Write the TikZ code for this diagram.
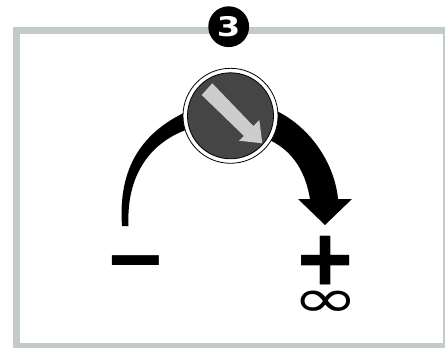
\documentclass[tikz,border=0pt]{standalone}
\usepackage{fontspec}
\setmainfont{DejaVu Sans}
\newfontfamily\signfont{Liberation Sans}
\usetikzlibrary{positioning}
\definecolor{framegray}{HTML}{C3CACC}
\definecolor{dialgray}{HTML}{454545}
\definecolor{pointergray}{HTML}{CBCECB}

\begin{document}
\begin{tikzpicture}[x=1pt,y=-1pt]
\tikzset{sign/.style={inner sep=0pt, text=black, font=\signfont\bfseries},
  badge/.style={circle, fill=black, minimum size=40.8pt, inner sep=0pt, text=white, font=\bfseries}}
\useasboundingbox (0,0) rectangle (445,348);
\fill[white] (0,0) rectangle (445,348);
\draw[framegray, line width=7.4pt] (16.5,30.5) rectangle (446.5,346.5);
% curved arrow
\fill[black] (122,226) .. controls (118,170) and (140,130) .. (195,108) -- (195,127)
  .. controls (155,138) and (126,170) .. (128.5,226) -- cycle;
\fill[black] (265,106) .. controls (310,122) and (335,165) .. (338,199) -- (352,199)
  -- (325,225) -- (298,199) -- (310,199) .. controls (306,175) and (295,150) .. (265,138) -- cycle;
% dial
\node[circle, draw=black, line width=0.8pt, fill=white, minimum size=95pt, inner sep=0pt] (dial) at (230.5,115.8) {};
\node[circle, draw=black, line width=0.8pt, fill=dialgray, minimum size=86pt, inner sep=0pt] (knob) at (dial.center) {};
\fill[pointergray] (212.3,83.3) -- (253.3,126) -- (259.3,120) -- (262.3,143.3) -- (239,140.7) -- (244,136) -- (201.7,95) -- cycle;
% marks
\node[badge] (step3) at (228.7,26.7) {\scalebox{1.25}[1]{\fontsize{27}{27}\selectfont 3}};
\node[sign] (minus) at (136,273) {\scalebox{1.3}[1.25]{\fontsize{72}{72}\selectfont −}};
\node[sign] (plus) at (325.5,264.5) {\fontsize{96}{96}\selectfont +};
\node[inner sep=0pt] (inf) at (325.5,304) {\scalebox{1}[0.68]{\fontsize{80}{80}\selectfont ∞}};
\end{tikzpicture}
\end{document}
